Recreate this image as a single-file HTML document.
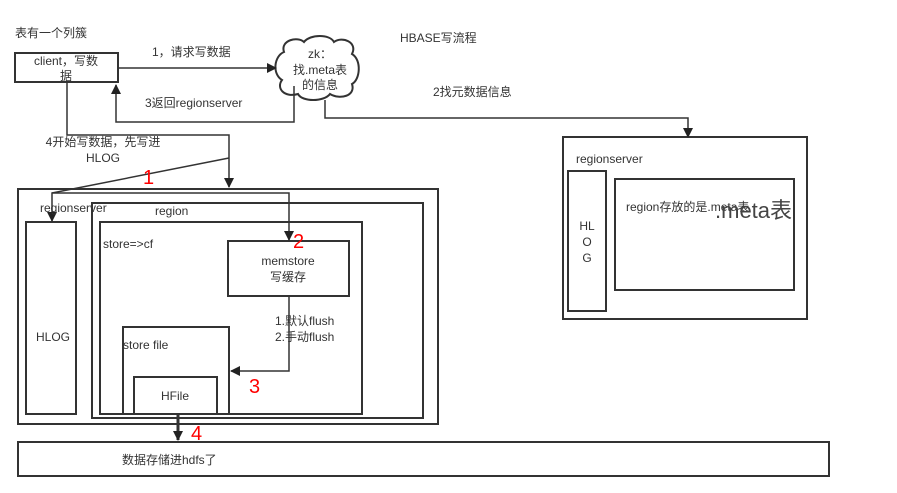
<!DOCTYPE html>
<html><head><meta charset="utf-8"><style>
body{margin:0;background:#fff}
svg{display:block}
text{font-family:"Liberation Sans","Noto Sans CJK SC",sans-serif;font-size:12px;fill:#333}
.r{fill:#f00;font-size:20px}
</style></head><body>
<svg width="897" height="493" viewBox="0 0 897 493" xmlns="http://www.w3.org/2000/svg">
<defs><marker id="a" markerWidth="10" markerHeight="10" refX="9" refY="5" orient="auto" markerUnits="userSpaceOnUse"><path d="M0,0 L10,5 L0,10 z" fill="#222"/></marker></defs>
<g fill="none" stroke="#333" stroke-width="2">
<rect x="15" y="53" width="103" height="29"/>
<path d="M284,52 C280,40 298,36 304,42 C310,34 330,34 334,42 C342,36 358,42 352,54 C362,60 360,80 352,84 C356,96 340,100 330,94 C324,102 302,102 298,94 C284,98 276,88 282,80 C272,74 274,56 284,52 z" fill="#fff"/>
<rect x="18" y="189" width="420" height="235"/>
<rect x="92" y="203" width="331" height="215"/>
<rect x="100" y="222" width="262" height="192"/>
<rect x="228" y="241" width="121" height="55"/>
<rect x="123" y="327" width="106" height="87"/>
<rect x="134" y="377" width="83" height="37"/>
<rect x="26" y="222" width="50" height="192"/>
<rect x="18" y="442" width="811" height="34"/>
<rect x="563" y="137" width="244" height="182"/>
<rect x="568" y="171" width="38" height="140"/>
<rect x="615" y="179" width="179" height="111"/>
</g>
<g fill="none" stroke="#333" stroke-width="1.5" marker-end="url(#a)">
<path d="M118,68 H276"/>
<path d="M294,86 V122 H116 V85"/>
<path d="M325,100 V118 H688 V137"/>
<path d="M67,82 V135 H229 V187"/>
<path d="M229,158 L52,193 V221"/>
<path d="M52,193 H289 V240"/>
<path d="M289,296 V371 H231"/>
<path d="M178,414 V440" stroke-width="3"/>
</g>
<text x="15" y="37">表有一个列簇</text>
<text x="66" y="65" text-anchor="middle">client，写数</text>
<text x="66" y="80" text-anchor="middle">据</text>
<text x="152" y="56">1，请求写数据</text>
<text x="320" y="58" text-anchor="middle">zk：</text>
<text x="320" y="74" text-anchor="middle">找.meta表</text>
<text x="320" y="89" text-anchor="middle">的信息</text>
<text x="145" y="107">3返回regionserver</text>
<text x="400" y="42">HBASE写流程</text>
<text x="433" y="96">2找元数据信息</text>
<text x="103" y="146" text-anchor="middle">4开始写数据，先写进</text>
<text x="103" y="162" text-anchor="middle">HLOG</text>
<text x="40" y="212">regionserver</text>
<text x="155" y="215">region</text>
<text x="103" y="248">store=&gt;cf</text>
<text x="288" y="265" text-anchor="middle">memstore</text>
<text x="288" y="281" text-anchor="middle">写缓存</text>
<text x="275" y="325">1.默认flush</text>
<text x="275" y="341">2.手动flush</text>
<text x="123" y="349">store file</text>
<text x="175" y="400" text-anchor="middle">HFile</text>
<text x="36" y="341">HLOG</text>
<text x="122" y="464">数据存储进hdfs了</text>
<text x="576" y="163">regionserver</text>
<text x="587" y="230" text-anchor="middle">HL</text>
<text x="587" y="246" text-anchor="middle">O</text>
<text x="587" y="262" text-anchor="middle">G</text>
<text x="626" y="211">region存放的是.meta表</text>
<text x="715" y="218" style="font-size:22px;fill:#444">.meta表</text>
<text class="r" x="143" y="184">1</text>
<text class="r" x="293" y="248">2</text>
<text class="r" x="249" y="393">3</text>
<text class="r" x="191" y="440">4</text>
</svg>
</body></html>
